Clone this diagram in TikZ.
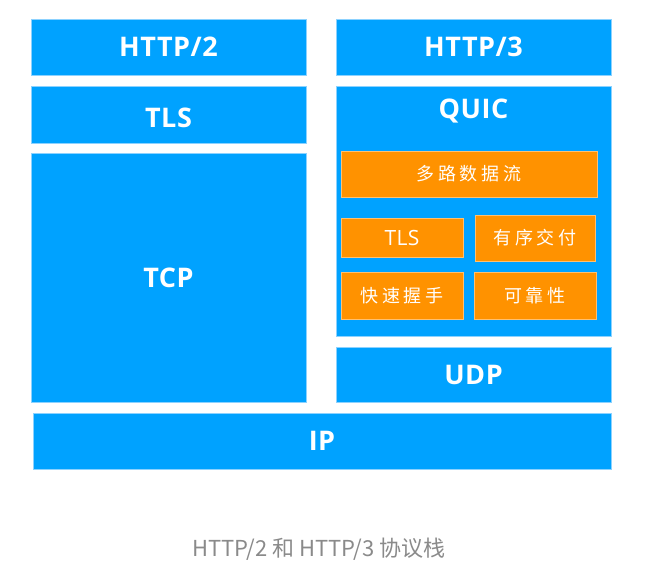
\documentclass[tikz,border=0pt]{standalone}
\usepackage{fontspec}
\setmainfont{Open Sans}
\newfontfamily\cjkfont[LetterSpace=22]{Noto Sans CJK SC}
\newfontfamily\capfont{Noto Sans CJK SC}
\newfontfamily\latfont[LetterSpace=2]{Open Sans}
\definecolor{bl}{HTML}{00A2FF}
\definecolor{blb}{HTML}{8CD2FF}
\definecolor{og}{HTML}{FF9200}
\definecolor{ogb}{HTML}{FFC070}
\definecolor{capc}{HTML}{8A8A8A}
\begin{document}
\begin{tikzpicture}[x=1pt,y=-1pt,
  layer/.style={fill=bl,draw=blb,line width=0.8pt},
  sub/.style={fill=og,draw=ogb,line width=0.6pt},
  big/.style={text=white,font=\latfont\bfseries\fontsize{27}{30}\selectfont,inner sep=0pt},
  small/.style={text=white,font=\latfont\fontsize{21}{23}\selectfont,inner sep=0pt},
  zh/.style={text=white,font=\cjkfont\fontsize{18}{20}\selectfont,inner sep=0pt}]
\useasboundingbox (0,0) rectangle (648,575);
% left stack
\draw[layer] (31,19) rectangle (306,75) node[pos=0.5,big] (h2) {HTTP/2};
\draw[layer] (31,86) rectangle (306,143) node[pos=0.5,big,yshift=-3pt] (tls) {TLS};
\draw[layer] (31,153) rectangle (306,402) node[pos=0.5,big] (tcp) {TCP};
% right stack
\draw[layer] (336,19) rectangle (611,75) node[pos=0.5,big] (h3) {HTTP/3};
\draw[layer] (336,86) rectangle (611,336);
\node[big] (quic) at (473.5,111) {QUIC};
\draw[sub] (341,151) rectangle (597,197) node[pos=0.5,zh] (mux) {多路数据流};
\draw[sub] (341,218) rectangle (463,257) node[pos=0.5,small] (qtls) {TLS};
\draw[sub] (475,215) rectangle (595,261) node[pos=0.5,zh] (ord) {有序交付};
\draw[sub] (341,272) rectangle (463,319) node[pos=0.5,zh] (hs) {快速握手};
\draw[sub] (474,272) rectangle (596,319) node[pos=0.5,zh] (rel) {可靠性};
\draw[layer] (336,347) rectangle (611,402) node[pos=0.5,big] (udp) {UDP};
% bottom
\draw[layer] (33,413) rectangle (611,469) node[pos=0.5,big] (ip) {IP};
% caption
\node[text=capc,font=\capfont\fontsize{22}{24}\selectfont,inner sep=0pt] (caption) at (319,549) {HTTP/2 和 HTTP/3 协议栈};
\end{tikzpicture}
\end{document}
